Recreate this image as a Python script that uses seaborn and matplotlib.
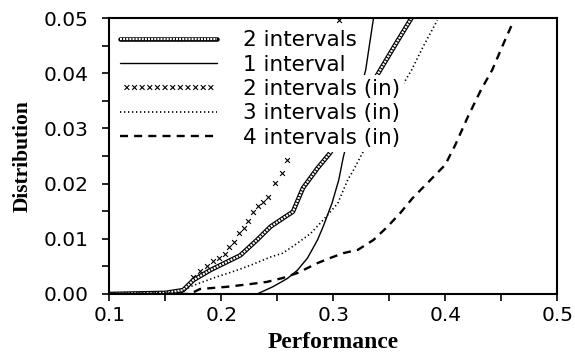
import matplotlib
matplotlib.use("Agg")
import matplotlib.pyplot as plt
from matplotlib.legend_handler import HandlerTuple
from matplotlib.ticker import MultipleLocator, FormatStrFormatter
import seaborn as sns

# values
two_x = [0.10, 0.15, 0.166, 0.175, 0.19, 0.205, 0.217, 0.232, 0.244, 0.255,
         0.264, 0.273, 0.286, 0.297, 0.32, 0.342, 0.357, 0.3705]
two_y = [0.0, 0.0002, 0.0007, 0.0025, 0.0043, 0.0058, 0.007, 0.0098, 0.0122, 0.0137,
         0.0149, 0.0192, 0.0228, 0.0255, 0.033, 0.0406, 0.0457, 0.0502]

one_x = [0.10, 0.232, 0.246, 0.259, 0.268, 0.277, 0.286, 0.291, 0.299, 0.305,
         0.309, 0.329, 0.336]
one_y = [0.0, 0.0, 0.0013, 0.0028, 0.0043, 0.0065, 0.0098, 0.0122, 0.0165, 0.0207,
         0.0248, 0.0406, 0.0500]

two_in_x = [0.175, 0.181, 0.187, 0.193, 0.198, 0.203, 0.207, 0.211, 0.216, 0.22,
            0.224, 0.228, 0.233, 0.237, 0.242, 0.248, 0.254, 0.259, 0.305]
two_in_y = [0.003, 0.0042, 0.005, 0.006, 0.0066, 0.0072, 0.0085, 0.0095, 0.011, 0.012,
            0.0133, 0.0149, 0.016, 0.0167, 0.0176, 0.0201, 0.0219, 0.0243, 0.0496]

three_in_x = [0.10, 0.165, 0.172, 0.181, 0.196, 0.214, 0.226, 0.244, 0.255, 0.268,
              0.28, 0.291, 0.304, 0.313, 0.318, 0.326, 0.37, 0.38, 0.393]
three_in_y = [0.0, 0.0003, 0.0013, 0.002, 0.0031, 0.0043, 0.0052, 0.0067, 0.0074, 0.0092,
              0.011, 0.0134, 0.0164, 0.0207, 0.0224, 0.0255, 0.0406, 0.0447, 0.0496]

four_in_x = [0.10, 0.172, 0.181, 0.205, 0.226, 0.241, 0.255, 0.268, 0.286, 0.297,
             0.309, 0.322, 0.336, 0.348, 0.36, 0.371, 0.387, 0.40, 0.409, 0.42,
             0.432, 0.442, 0.453, 0.46]
four_in_y = [0.0, 0.0, 0.0009, 0.0013, 0.0018, 0.0022, 0.0029, 0.0038, 0.0056, 0.0065,
             0.0074, 0.008, 0.0098, 0.0121, 0.0147, 0.0174, 0.0207, 0.0234, 0.027, 0.032,
             0.037, 0.0406, 0.0458, 0.0490]

labels = ["2 intervals", "1 interval", "2 intervals (in)", "3 intervals (in)", "4 intervals (in)"]

sns.set_style("ticks")
plt.rcParams["font.family"] = ["DejaVu Sans"]
plt.rcParams["text.color"] = "black"
plt.rcParams["axes.labelcolor"] = "black"

fig = plt.figure(figsize=(5.75, 3.57), dpi=100)
ax = fig.add_axes([0.19, 0.1765, 0.779, 0.773])

# beaded line: thick black with a dashed white core
sns.lineplot(x=two_x, y=two_y, ax=ax, color="black", lw=3.3)
bead_outer = ax.lines[-1]
sns.lineplot(x=two_x, y=two_y, ax=ax, color="white", lw=1.6, linestyle=(0, (0.9, 0.5)))
bead_inner = ax.lines[-1]

sns.lineplot(x=one_x, y=one_y, ax=ax, color="black", lw=1.0)
solid = ax.lines[-1]

sns.scatterplot(x=two_in_x, y=two_in_y, ax=ax, marker="x", s=12, color="black", linewidth=0.8)
crosses = ax.collections[-1]

sns.lineplot(x=three_in_x, y=three_in_y, ax=ax, color="black", lw=1.2, linestyle=(0, (0.8, 1.6)))
dotted = ax.lines[-1]

sns.lineplot(x=four_in_x, y=four_in_y, ax=ax, color="black", lw=1.7, linestyle=(0, (3.4, 2.6)))
dashed = ax.lines[-1]

ax.set_xlim(0.1, 0.5)
ax.set_ylim(0, 0.05)
ax.xaxis.set_major_locator(MultipleLocator(0.1))
ax.xaxis.set_minor_locator(MultipleLocator(0.05))
ax.yaxis.set_major_locator(MultipleLocator(0.01))
ax.yaxis.set_minor_locator(MultipleLocator(0.005))
ax.xaxis.set_major_formatter(FormatStrFormatter("%.1f"))
ax.yaxis.set_major_formatter(FormatStrFormatter("%.2f"))
ax.tick_params(which="both", direction="out", length=5, width=1.2, colors="black")
ax.tick_params(axis="both", labelsize=14.5)
ax.tick_params(axis="y", pad=10)
ax.tick_params(axis="x", pad=4)
for sp in ax.spines.values():
    sp.set_visible(True)
    sp.set_linewidth(1.5)
    sp.set_color("black")

ax.set_xlabel("Performance", fontfamily="Liberation Serif", fontweight="bold", fontsize=17, labelpad=5)
ax.set_ylabel("Distribution", fontfamily="Liberation Serif", fontweight="bold", fontsize=15.5, labelpad=8)

leg = ax.legend([(bead_outer, bead_inner), solid, crosses, dotted, dashed], labels,
                handler_map={tuple: HandlerTuple(ndivide=1)},
                loc="upper left", bbox_to_anchor=(0.025, 0.955), frameon=False,
                fontsize=15.5, handlelength=4.5, handletextpad=1.2, labelspacing=0.2,
                borderpad=0, borderaxespad=0, scatterpoints=12, scatteryoffsets=[0.5])
for t in leg.get_texts():
    t.set_bbox(dict(facecolor="white", edgecolor="none", pad=3))

fig.savefig("out.png", dpi=100)
